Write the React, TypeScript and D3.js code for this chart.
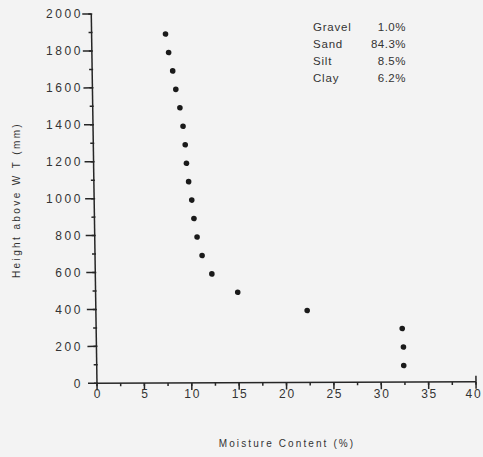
import React from "react";
import * as d3 from "d3";

const W = 483;
const H = 457;

// Moisture content (%) vs height above water table (mm)
const moisture = [7.8, 8.1, 8.5, 8.8, 9.2, 9.5, 9.7, 9.8, 10.0, 10.3, 10.5, 10.8, 11.3, 12.3, 15.0, 22.3, 32.3, 32.4, 32.4];
const height = [1890, 1790, 1690, 1590, 1490, 1390, 1290, 1190, 1090, 990, 890, 790, 690, 590, 490, 390, 290, 190, 90];

const xTicks = [0, 5, 10, 15, 20, 25, 30, 35, 40];
const yTicks = [0, 200, 400, 600, 800, 1000, 1200, 1400, 1600, 1800, 2000];

const legendNames = ["Gravel", "Sand", "Silt", "Clay"];
const legendValues = ["1.0%", "84.3%", "8.5%", "6.2%"];

const INK = "#262626";
const TEXT = "#333333";
const FONT = "'Liberation Sans', Arial, sans-serif";

export default function App() {
  const x = d3.scaleLinear().domain([0, 40]).range([97, 476]);
  const y = d3.scaleLinear().domain([0, 2000]).range([383.3, 14]);

  const xMinor = d3.range(0, 40.01, 2.5);
  const yMinor = d3.range(0, 2000.01, 100);

  const ox = x(0);
  const oy = y(0);
  const skew = `translate(${ox},${oy}) matrix(1,-0.004,0.0155,1,0,0) translate(${-ox},${-oy})`;

  return (
    <svg
      width={W}
      height={H}
      style={{ position: "absolute", left: 0, top: 0, display: "block" }}
    >
      <rect x={0} y={0} width={W} height={H} fill="#f3f3f3" />

      <g transform={skew} stroke={INK} strokeWidth={1.5} fill="none">
        {/* axes */}
        <line x1={x(0)} x2={x(0)} y1={y(0)} y2={y(2000)} />
        <line x1={x(0)} x2={x(40)} y1={y(0)} y2={y(0)} />
        {/* y ticks */}
        {yMinor.map((v) => (
          <line key={"ym" + v} x1={x(0) - 3} x2={x(0) + 1} y1={y(v)} y2={y(v)} />
        ))}
        {yTicks.map((v) => (
          <line key={"yt" + v} x1={x(0) - 9} x2={x(0)} y1={y(v)} y2={y(v)} />
        ))}
        {/* x ticks */}
        {xMinor.map((v) => (
          <line key={"xm" + v} x1={x(v)} x2={x(v)} y1={y(0)} y2={y(0) + 3} />
        ))}
        {xTicks.map((v) => (
          <line key={"xt" + v} x1={x(v)} x2={x(v)} y1={y(0)} y2={y(0) + 7} />
        ))}
        <line x1={x(40)} x2={x(40)} y1={y(0) - 6} y2={y(0)} />
        {/* points */}
        {moisture.map((m, i) => (
          <circle key={"p" + i} cx={x(m)} cy={y(height[i])} r={2.8} fill="#1a1a1a" stroke="none" />
        ))}
      </g>

      {/* y tick labels */}
      <g fill={TEXT} fontFamily={FONT} fontSize={12} style={{ letterSpacing: "2.6px" }}>
        {yTicks.map((v) => (
          <text key={"yl" + v} x={83} y={y(v)} dy="0.36em" textAnchor="end">
            {v}
          </text>
        ))}
      </g>

      {/* x tick labels */}
      <g fill={TEXT} fontFamily={FONT} fontSize={12} style={{ letterSpacing: "1.8px" }}>
        {xTicks.map((v) => (
          <text key={"xl" + v} x={Math.min(x(v) + 1, W - 9)} y={398} textAnchor="middle">
            {v}
          </text>
        ))}
      </g>

      {/* axis titles */}
      <text
        x={287}
        y={447}
        textAnchor="middle"
        fill={TEXT}
        fontFamily={FONT}
        fontSize={10}
        style={{ letterSpacing: "2.1px" }}
      >
        Moisture Content (%)
      </text>
      <text
        transform="translate(19.5,200) rotate(-90)"
        textAnchor="middle"
        fill={TEXT}
        fontFamily={FONT}
        fontSize={10}
        style={{ letterSpacing: "2.4px" }}
      >
        Height above W T (mm)
      </text>

      {/* legend */}
      <g fill={TEXT} fontFamily={FONT} fontSize={11.5}>
        {legendNames.map((n, i) => (
          <text key={"ln" + i} x={313} y={30.7 + i * 17.2} style={{ letterSpacing: "0.8px" }}>
            {n}
          </text>
        ))}
        {legendValues.map((v, i) => (
          <text key={"lv" + i} x={406} y={30.7 + i * 17.2} textAnchor="end" style={{ letterSpacing: "0.5px" }}>
            {v}
          </text>
        ))}
      </g>
    </svg>
  );
}
